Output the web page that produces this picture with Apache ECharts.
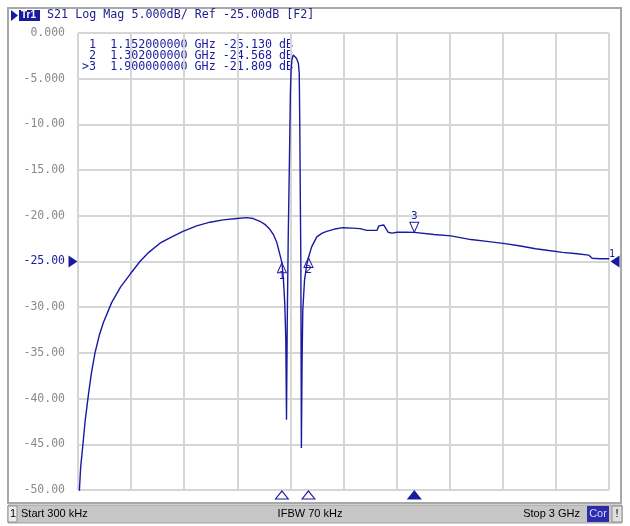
<!DOCTYPE html>
<html>
<head>
<meta charset="utf-8">
<script src="https://cdn.jsdelivr.net/npm/echarts@6/dist/echarts.min.js"></script>
<style>
html,body{margin:0;padding:0;background:#fff;}
#c{width:630px;height:526px;}
</style>
</head>
<body>
<div id="c"></div>
<script>
// ---- data (frequency in GHz, S21 in dB) ----
var freqGHz = [0.0003,0.008,0.015,0.027,0.040,0.058,0.075,0.096,0.12,0.143,0.19,0.24,0.294,0.35,0.40,0.463,0.53,0.593,0.67,0.746,0.82,0.897,0.953,0.99,1.028,1.06,1.085,1.105,1.123,1.14,1.152,1.160,1.168,1.174,1.178,1.182,1.188,1.194,1.200,1.204,1.209,1.216,1.226,1.235,1.245,1.250,1.253,1.256,1.259,1.262,1.266,1.270,1.280,1.292,1.302,1.320,1.349,1.38,1.405,1.45,1.497,1.55,1.593,1.631,1.689,1.700,1.710,1.727,1.740,1.752,1.774,1.802,1.85,1.900,2.011,2.107,2.22,2.31,2.412,2.50,2.585,2.66,2.737,2.82,2.885,2.905,2.95,3.0];
var s21dB = [-58,-50,-47.5,-45.2,-42.5,-39.7,-37.3,-35.0,-33.1,-31.7,-29.5,-27.8,-26.4,-25.0,-24.0,-23.0,-22.3,-21.7,-21.1,-20.7,-20.45,-20.3,-20.2,-20.3,-20.6,-21.0,-21.5,-22.1,-22.9,-24.2,-25.13,-26.8,-29.5,-33.5,-42.3,-32,-22,-14.6,-6.5,-4.0,-2.9,-2.4,-2.5,-2.8,-3.3,-4.4,-10,-18,-25,-45.4,-36,-30.3,-27.0,-25.4,-24.568,-23.4,-22.3,-21.9,-21.7,-21.45,-21.3,-21.35,-21.4,-21.6,-21.6,-21.1,-20.9,-21.0,-21.4,-21.8,-21.9,-21.8,-21.8,-21.809,-22.05,-22.2,-22.6,-22.8,-23.05,-23.3,-23.6,-23.8,-24.0,-24.15,-24.3,-24.65,-24.7,-24.7];
var yTickValues = [0,-5,-10,-15,-20,-25,-30,-35,-40,-45,-50];
var yTickLabels = ['0.000','-5.000','-10.00','-15.00','-20.00','-25.00','-30.00','-35.00','-40.00','-45.00','-50.00'];
var markerIds = ['1','2','3'];
var markerFreqGHz = [1.152,1.302,1.9];
var markerDB = [-25.130,-24.568,-21.809];
var markerLines = [' 1  1.152000000 GHz -25.130 dB',' 2  1.302000000 GHz -24.568 dB','>3  1.900000000 GHz -21.809 dB'];
var titleText = 'S21 Log Mag 5.000dB/ Ref -25.00dB [F2]';
var refLevel = -25;
var statusStart = 'Start 300 kHz', statusIfbw = 'IFBW 70 kHz', statusStop = 'Stop 3 GHz';

var NAVY = '#1a1aa0';
var MONO = '"DejaVu Sans Mono", monospace';
var SANS = '"Liberation Sans", Arial, sans-serif';

var chart = echarts.init(document.getElementById('c'), null, {renderer:'canvas'});

var traceData = freqGHz.map(function(f,i){return [f, s21dB[i]];});

var markPts = [];
// trace markers
markerFreqGHz.forEach(function(f,i){
  var up = (i < 2);
  markPts.push({
    coord:[f, markerDB[i]],
    symbol:'triangle',
    symbolSize:[9,10],
    symbolRotate: up ? 0 : 180,
    symbolOffset:[0, up ? 5 : -5],
    itemStyle:{color:'rgba(255,255,255,0)', borderColor:NAVY, borderWidth:1},
    label:{show:true, formatter:markerIds[i], position: up ? 'bottom' : 'top', distance: up ? -3 : 0, color:NAVY, fontFamily:MONO, fontSize:11}
  });
  // bottom stimulus markers
  markPts.push({
    coord:[f, -50],
    symbol:'triangle',
    symbolSize:[13,8],
    symbolOffset:[0,5],
    itemStyle: i===2 ? {color:NAVY, borderColor:NAVY, borderWidth:1} : {color:'#fff', borderColor:NAVY, borderWidth:1},
    label:{show:false}
  });
});
// reference level arrows
markPts.push({coord:[0, refLevel], symbol:'triangle', symbolSize:[12,9], symbolRotate:-90, symbolOffset:[-5,0],
  itemStyle:{color:NAVY}, label:{show:false}});
markPts.push({coord:[3, refLevel], symbol:'triangle', symbolSize:[12,9], symbolRotate:90, symbolOffset:[6,0],
  itemStyle:{color:NAVY}, label:{show:true, formatter:'1', position:'top', distance:-4, offset:[-3,0], color:NAVY, fontFamily:MONO, fontSize:10}});

var option = {
  animation:false,
  backgroundColor:'#fff',
  grid:{left:78, top:33, width:531, height:457, show:true, borderColor:'#8c8c8c', borderWidth:1, backgroundColor:'#fff', containLabel:false},
  xAxis:{type:'value', min:0, max:3, interval:0.3,
    axisLine:{show:false}, axisTick:{show:false}, axisLabel:{show:false},
    splitLine:{show:true, lineStyle:{color:'#d6d6d6', width:2}}},
  yAxis:{type:'value', min:-50, max:0, interval:5,
    axisLine:{show:false}, axisTick:{show:false},
    axisLabel:{show:true, margin:13, fontFamily:MONO, fontSize:11.5,
      color:function(v){ return Math.abs(v - refLevel) < 1e-9 ? NAVY : '#8a8a8a'; },
      formatter:function(v){ var k = yTickValues.indexOf(v); return k>=0 ? yTickLabels[k] : ''; }},
    splitLine:{show:true, lineStyle:{color:'#d6d6d6', width:2}}},
  series:[{
    type:'line', data:traceData, showSymbol:false, clip:true,
    lineStyle:{color:NAVY, width:1.4}, itemStyle:{color:NAVY},
    markPoint:{data:markPts, animation:false}
  }],
  graphic:[
    // outer frame
    {type:'rect', shape:{x:8,y:8,width:613,height:495}, style:{fill:'none', stroke:'#a8a8a8', lineWidth:2}, z:-1},
    // title bar
    {type:'polygon', shape:{points:[[11,10],[18,15.5],[11,21]]}, style:{fill:NAVY}},
    {type:'rect', shape:{x:19,y:10,width:21,height:11}, style:{fill:NAVY}},
    {type:'text', x:21, y:10, style:{text:'Tr1', fill:'#fff', font:'bold 10px ' + SANS}},
    {type:'text', x:47, y:9, style:{text:titleText, fill:'#1c1c8c', font:'11.7px ' + MONO}},
    // marker table
    {type:'text', x:82, y:39, style:{text:markerLines[0], fill:NAVY, font:'11.7px ' + MONO}},
    {type:'text', x:82, y:50, style:{text:markerLines[1], fill:NAVY, font:'11.7px ' + MONO}},
    {type:'text', x:82, y:61, style:{text:markerLines[2], fill:NAVY, font:'11.7px ' + MONO}},
    // status bar
    {type:'rect', shape:{x:8,y:505,width:614,height:18}, style:{fill:'#c6c6c6', stroke:'#a0a0a0', lineWidth:1}},
    {type:'rect', shape:{x:8,y:506,width:9,height:16}, style:{fill:'#ececec', stroke:'#909090', lineWidth:1}},
    {type:'text', x:10, y:508, style:{text:'1', fill:'#000', font:'11px ' + SANS}},
    {type:'text', x:21, y:508, style:{text:statusStart, fill:'#000', font:'11px ' + SANS}},
    {type:'text', x:310, y:508, style:{text:statusIfbw, fill:'#000', font:'11px ' + SANS, align:'center'}},
    {type:'text', x:580, y:508, style:{text:statusStop, fill:'#000', font:'11px ' + SANS, align:'right'}},
    {type:'rect', shape:{x:587,y:506,width:22,height:16}, style:{fill:'#2d2daa'}},
    {type:'text', x:598, y:508, style:{text:'Cor', fill:'#d8d8ff', font:'11px ' + SANS, align:'center'}},
    {type:'rect', shape:{x:612,y:506,width:10,height:16}, style:{fill:'#e0e0e0', stroke:'#909090', lineWidth:1}},
    {type:'text', x:617, y:508, style:{text:'!', fill:'#000', font:'11px ' + SANS, align:'center'}}
  ]
};
chart.setOption(option);
</script>
</body>
</html>
